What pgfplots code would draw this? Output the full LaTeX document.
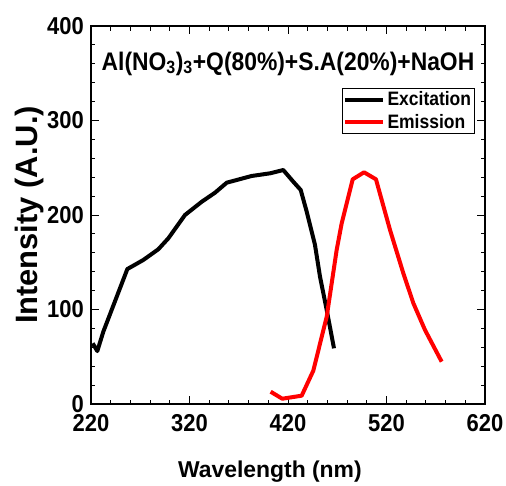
\documentclass[border=0pt]{standalone}
\usepackage{fontspec}
\setmainfont{Liberation Sans}
\newfontfamily\cond{Liberation Sans}[FakeStretch=0.9]
\usepackage{pgfplots}
\pgfplotsset{compat=1.18}

\begin{document}
\begin{tikzpicture}
\begin{axis}[
    name=ax,
    width=394bp, height=378bp, scale only axis,
    xmin=220, xmax=620, ymin=0, ymax=400,
    xtick={220,320,...,620}, ytick={0,100,...,400},
    minor x tick num=4, minor y tick num=4,
    tick align=inside,
    major tick length=8bp, minor tick length=4.5bp,
    axis line style={line width=1.2bp},
    every tick/.style={black, line width=1bp},
    /pgf/number format/assume math mode=true,
    ticklabel style={font=\cond\bfseries\fontsize{24.5}{24.5}\selectfont, inner sep=0pt},
    xticklabel shift=10bp, yticklabel shift=7bp,
    xlabel={Wavelength (nm)},
    xlabel style={font=\bfseries\fontsize{23}{23}\selectfont, at={(rel axis cs:0.454,0)}, anchor=base, yshift=-73bp},
    legend style={at={(rel axis cs:0.9746,0.836)}, anchor=north east, draw=black, line width=0.8bp,
        font=\cond\bfseries\fontsize{19.5}{19.5}\selectfont, inner sep=1bp, row sep=2bp,
        nodes={inner sep=2.5bp}},
    legend cell align=left,
    legend image code/.code={\draw[#1] (0bp,0bp) -- (38bp,0bp);},
]

% excitation spectrum
\addplot[black, line width=4bp, line join=round] coordinates {
    (221.7,64.2) (226.4,56) (232.5,76.5) (256.9,142.8) (273.1,152.4)
    (288.3,163.7) (298.5,175.3) (315.4,200) (332.4,214) (345.9,223.6)
    (357.8,234.2) (383.1,241.3) (401.7,244.1) (415.2,247.6) (425.4,235.2)
    (432.9,226.5) (439,203.5) (447.4,168.3) (452.5,134.7) (459.3,99.5)
    (466.7,58.9)
};
\addlegendentry{Excitation}

% emission spectrum
\addplot[red, line width=4bp, line join=round] coordinates {
    (402.4,13) (414.2,5.6) (433.9,8.8) (445.7,35.3) (459.3,92.4)
    (469.4,163) (474.5,191.2) (485.7,237.8) (497.2,245.2) (509.3,237.8)
    (523.6,184.1) (537.1,138.3) (547.3,106.6) (559.1,78.3) (576,44.8)
};
\addlegendentry{Emission}

\node[font=\cond\bfseries\fontsize{25.5}{25.5}\selectfont, anchor=base]
    at (rel axis cs:0.5,0.8836) {Al(NO\textsubscript{3})\textsubscript{3}+Q(80\%)+S.A(20\%)+NaOH};
\end{axis}
\node[rotate=90, anchor=base, font=\bfseries\fontsize{31}{31}\selectfont]
    at ([xshift=-53.5bp]ax.west) {Intensity (A.U.)};
\path (ax.south west) ++(-91bp,-79bp) rectangle ++(506bp,483bp);
\end{tikzpicture}
\end{document}
